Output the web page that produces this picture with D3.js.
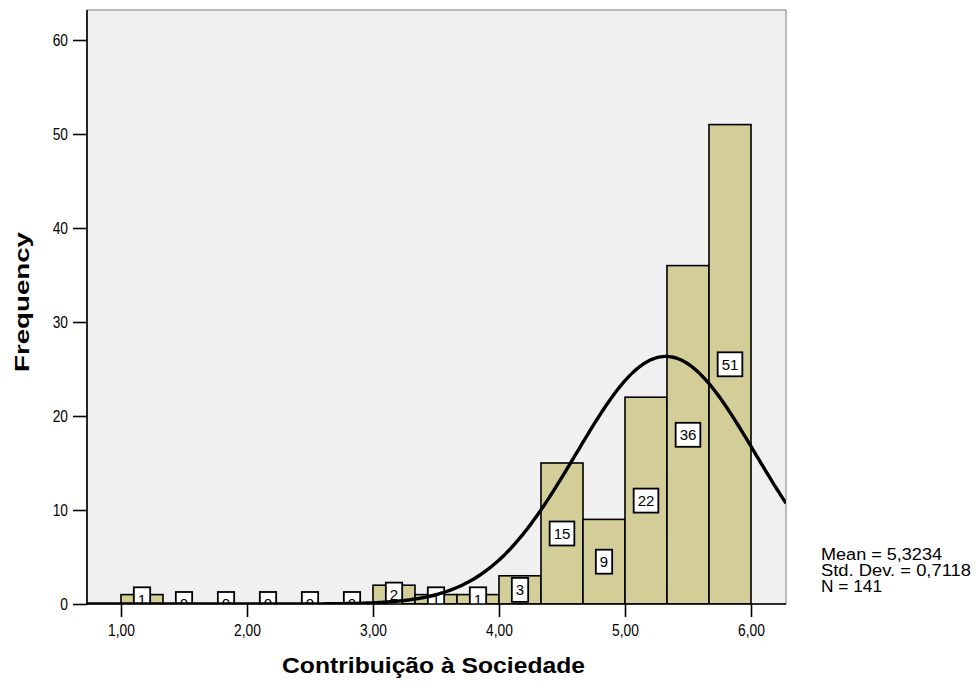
<!DOCTYPE html>
<html>
<head>
<meta charset="utf-8">
<script src="https://cdn.jsdelivr.net/npm/d3@7"></script>
<style>
  html, body { margin: 0; padding: 0; background: #ffffff; }
  svg { display: block; }
  text { font-family: "Liberation Sans", Arial, Helvetica, sans-serif; }
</style>
</head>
<body>
<svg id="chart" width="978" height="688"></svg>
<script>
// ---- Data ----
const binStarts = [1.0, 1.3333, 1.6667, 2.0, 2.3333, 2.6667, 3.0, 3.3333, 3.6667, 4.0, 4.3333, 4.6667, 5.0, 5.3333, 5.6667];
const counts    = [1, 0, 0, 0, 0, 0, 2, 1, 1, 3, 15, 9, 22, 36, 51];
const binWidth  = 1 / 3;
const xTicks    = [1, 2, 3, 4, 5, 6];
const xTickLabels = ["1,00", "2,00", "3,00", "4,00", "5,00", "6,00"];
const yTicks    = [0, 10, 20, 30, 40, 50, 60];
const statMean  = 5.3234;
const statSD    = 0.7118;
const statN     = 141;
const statLines = ["Mean = 5,3234", "Std. Dev. = 0,7118", "N = 141"];
const xTitle    = "Contribuição à Sociedade";
const yTitle    = "Frequency";

// ---- Layout ----
const plot = { left: 87, top: 10, right: 786, bottom: 604 };
const svg = d3.select("#chart");

const x = d3.scaleLinear().domain([1, 6]).range([121, 751]);
const y = d3.scaleLinear().domain([0, 60]).range([604, 40]);

// plot background
svg.append("rect")
  .attr("x", plot.left).attr("y", plot.top)
  .attr("width", plot.right - plot.left).attr("height", plot.bottom - plot.top)
  .attr("fill", "#f0f0f0").attr("stroke", "#7f7f7f").attr("stroke-width", 1);

svg.append("clipPath").attr("id", "clip")
  .append("rect")
  .attr("x", plot.left).attr("y", plot.top)
  .attr("width", plot.right - plot.left).attr("height", plot.bottom - plot.top);

const g = svg.append("g").attr("clip-path", "url(#clip)");

const bins = binStarts.map((s, i) => ({ x0: s, x1: s + binWidth, n: counts[i] }));

// bars
g.selectAll("rect.bar").data(bins.filter(d => d.n > 0)).enter().append("rect")
  .attr("class", "bar")
  .attr("x", d => x(d.x0))
  .attr("width", d => x(d.x1) - x(d.x0))
  .attr("y", d => y(d.n))
  .attr("height", d => y(0) - y(d.n))
  .attr("fill", "#d3ce98")
  .attr("stroke", "#000").attr("stroke-width", 1.6);

// count labels
const lab = g.selectAll("g.lab").data(bins).enter().append("g")
  .attr("class", "lab")
  .attr("transform", d => `translate(${x((d.x0 + d.x1) / 2)},${y(d.n / 2)})`);
lab.each(function(d) {
  const sel = d3.select(this);
  const t = sel.append("text")
    .attr("text-anchor", "middle").attr("dy", "0.36em")
    .attr("font-size", 15).attr("fill", "#000")
    .text(String(d.n));
  const w = t.node().getComputedTextLength();
  sel.insert("rect", "text")
    .attr("x", -w / 2 - 4).attr("y", -12)
    .attr("width", w + 8).attr("height", 24)
    .attr("fill", "#fff").attr("stroke", "#000").attr("stroke-width", 1.8);
});

// normal curve
const pdfScale = statN * binWidth / (statSD * Math.sqrt(2 * Math.PI));
const xs = d3.range(0, 301).map(i => x.invert(plot.left + (plot.right - plot.left) * i / 300));
const curve = d3.line()
  .x(v => x(v))
  .y(v => y(pdfScale * Math.exp(-0.5 * Math.pow((v - statMean) / statSD, 2))))
  .curve(d3.curveBasis);
g.append("path").datum(xs)
  .attr("d", curve)
  .attr("fill", "none").attr("stroke", "#000").attr("stroke-width", 3.4);

// axes
function styleTickText(sel) {
  sel.attr("font-size", 16).attr("fill", "#000")
    .attr("font-family", "'Liberation Sans', Arial, sans-serif")
    .each(function() {
      const w = this.getComputedTextLength();
      d3.select(this).attr("textLength", w * 0.86).attr("lengthAdjust", "spacingAndGlyphs");
    });
}
const xAxis = svg.append("g").attr("transform", `translate(0,${plot.bottom})`)
  .call(d3.axisBottom(x).tickValues(xTicks).tickFormat((d, i) => xTickLabels[i]).tickSize(13).tickPadding(8).tickSizeOuter(0));
xAxis.select(".domain").remove();
xAxis.selectAll("line").attr("stroke", "#000").attr("stroke-width", 1.6);
xAxis.selectAll("text").call(styleTickText);

const yAxis = svg.append("g").attr("transform", `translate(${plot.left},0)`)
  .call(d3.axisLeft(y).tickValues(yTicks).tickSize(14).tickPadding(5).tickSizeOuter(0));
yAxis.select(".domain").remove();
yAxis.selectAll("line").attr("stroke", "#000").attr("stroke-width", 1.6);
yAxis.selectAll("text").call(styleTickText);

// axis lines
svg.append("line").attr("x1", plot.left).attr("x2", plot.left)
  .attr("y1", plot.top).attr("y2", plot.bottom + 1)
  .attr("stroke", "#000").attr("stroke-width", 1.6);
svg.append("line").attr("x1", plot.left - 1).attr("x2", plot.right)
  .attr("y1", plot.bottom).attr("y2", plot.bottom)
  .attr("stroke", "#000").attr("stroke-width", 1.6);

// titles
svg.append("text")
  .attr("x", 433.5).attr("y", 673)
  .attr("text-anchor", "middle").attr("font-size", 22).attr("font-weight", "bold")
  .attr("textLength", 303).attr("lengthAdjust", "spacingAndGlyphs")
  .attr("fill", "#000").text(xTitle);
svg.append("text")
  .attr("transform", `translate(29,302) rotate(-90)`)
  .attr("text-anchor", "middle").attr("font-size", 21).attr("font-weight", "bold")
  .attr("textLength", 140).attr("lengthAdjust", "spacingAndGlyphs")
  .attr("fill", "#000").text(yTitle);

// stats
const statWidths = [121, 150, 61];
svg.append("g").selectAll("text").data(statLines).enter().append("text")
  .attr("x", 821).attr("y", (d, i) => 560 + i * 16)
  .attr("font-size", 16).attr("fill", "#000")
  .attr("textLength", (d, i) => statWidths[i]).attr("lengthAdjust", "spacingAndGlyphs")
  .text(d => d);
</script>
</body>
</html>
